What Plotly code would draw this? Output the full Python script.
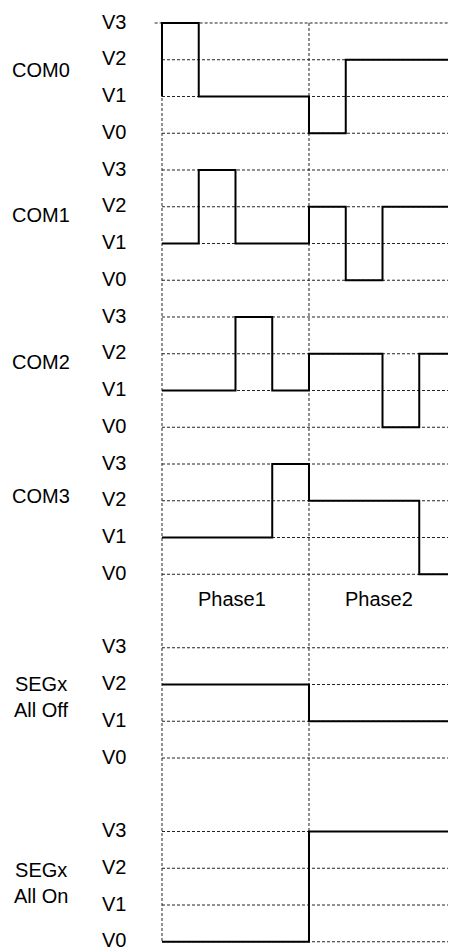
import plotly.graph_objects as go

# ---- data ----
level_labels = ["V3", "V2", "V1", "V0"]
level_values = [3, 2, 1, 0]
phase_labels = ["Phase1", "Phase2"]
row_names = ["COM0", "COM1", "COM2", "COM3", "SEGx<br>All Off", "SEGx<br>All On"]
row_tops = [0, 4, 8, 12, 17, 22]           # slot index of V3 for each row
row_label_pos = [1.28, 5.22, 9.23, 12.87, 18.35, 23.4]

com0 = [3, 1, 1, 1, 0, 2, 2, 2]
com1 = [1, 3, 1, 1, 2, 0, 2, 2]
com2 = [1, 1, 3, 1, 2, 2, 0, 2]
com3 = [1, 1, 1, 3, 2, 2, 2, 0]
seg_off = [2, 2, 2, 2, 1, 1, 1, 1]
seg_on = [0, 0, 0, 0, 3, 3, 3, 3]
waves = [com0, com1, com2, com3, seg_off, seg_on]
start_levels = [1, None, None, None, None, None]  # COM0 rises from V1 at t=0

steps_per_phase = 4
n_steps = 8

FONT = "Liberation Sans, Arial, sans-serif"
GRID = "#222222"
FS = 20

fig = go.Figure()

def slot(top, level):
    return top + (3 - level)

# horizontal dashed grid lines
for r, top in enumerate(row_tops):
    for lv in level_values:
        x0 = 0
        x1 = n_steps
        if r == 0 and lv == 3:
            x0, x1 = -0.2, 7.85
        fig.add_trace(go.Scatter(x=[x0, x1], y=[slot(top, lv)] * 2, mode="lines",
                                 line=dict(color=GRID, width=1, dash="3px,2px"),
                                 hoverinfo="skip", showlegend=False))

# vertical phase dividers
for p in range(len(phase_labels)):
    xv = p * steps_per_phase
    fig.add_trace(go.Scatter(x=[xv, xv], y=[row_tops[0], slot(row_tops[-1], 0)], mode="lines",
                             line=dict(color=GRID, width=1, dash="3px,2px"),
                             hoverinfo="skip", showlegend=False))

# waveforms
for r, (top, wave) in enumerate(zip(row_tops, waves)):
    xs, ys = [], []
    if start_levels[r] is not None:
        xs.append(0)
        ys.append(slot(top, start_levels[r]))
    for i, lv in enumerate(wave):
        xs += [i, i + 1]
        ys += [slot(top, lv), slot(top, lv)]
    fig.add_trace(go.Scatter(x=xs, y=ys, mode="lines",
                             line=dict(color="black", width=2),
                             hoverinfo="skip", showlegend=False))

# labels
for r, top in enumerate(row_tops):
    for lab, lv in zip(level_labels, level_values):
        fig.add_annotation(x=-1.306, y=slot(top, lv) - 0.04, text=lab, showarrow=False,
                           xanchor="center", yanchor="middle",
                           font=dict(family=FONT, size=FS, color="black"))
    fig.add_annotation(x=-3.29, y=row_label_pos[r], text=row_names[r], showarrow=False,
                       xanchor="center", yanchor="middle",
                       font=dict(family=FONT, size=FS, color="black"))

for p, lab in enumerate(phase_labels):
    fig.add_annotation(x=p * steps_per_phase + 1.9, y=15.68, text=lab, showarrow=False,
                       xanchor="center", yanchor="middle",
                       font=dict(family=FONT, size=FS, color="black"))

# page body has an 8px margin; figure spans page pixels 8..456 / 8..952
fig.update_layout(
    width=448, height=944,
    margin=dict(l=0, r=0, t=0, b=0),
    paper_bgcolor="white", plot_bgcolor="white",
    xaxis=dict(range=[-4.190, 8.0], visible=False, fixedrange=True),
    yaxis=dict(range=[25.279, -0.408], visible=False, fixedrange=True),
    showlegend=False,
)

fig.write_html("out.html")
